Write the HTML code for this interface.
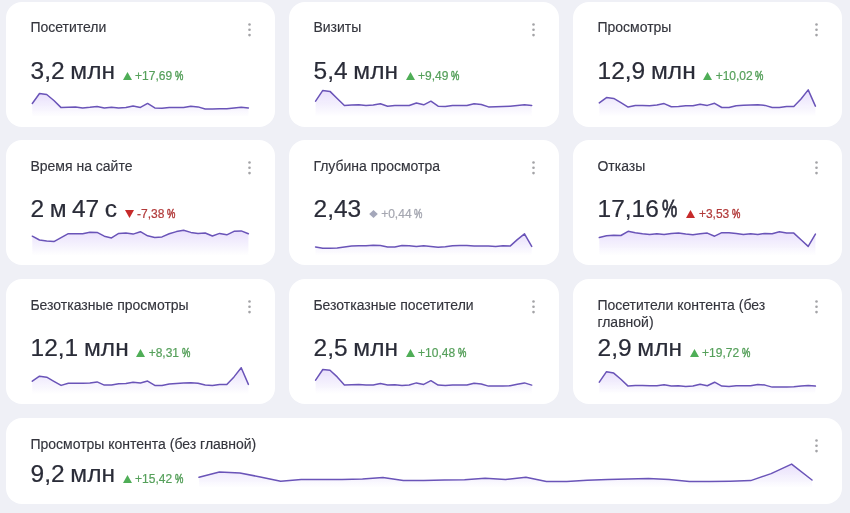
<!DOCTYPE html>
<html><head><meta charset="utf-8">
<style>
*{margin:0;padding:0;box-sizing:border-box}
html,body{width:850px;height:513px;overflow:hidden;background:#eff0f6;font-family:"Liberation Sans",sans-serif}
.card{position:absolute;background:#fff;border-radius:16px;will-change:transform}
.t{position:absolute;left:24.4px;top:17.5px;font-size:14px;line-height:17.4px;color:#34353d;width:190px;-webkit-text-stroke:0.15px #34353d}
.dots{position:absolute;fill:#a3a3a6}
.dots i{position:absolute;left:0.2px;width:2.7px;height:2.7px;border-radius:50%;background:#9c9c9e}
.v{position:absolute;left:24.5px;top:54.8px;display:flex;align-items:baseline;white-space:nowrap}
.v b{font-weight:normal;font-size:24.5px;line-height:28px;color:#2a2c38;-webkit-text-stroke:0.2px #2a2c38;word-spacing:-1px}
.v .ic{margin-left:7.5px;margin-right:3.5px;align-self:baseline;position:relative;top:1.2px}
.v s{text-decoration:none;font-size:12px;line-height:14px;position:relative;top:1px}
.g{fill:#4fae57}.gt{color:#56a05b;-webkit-text-stroke:0.2px #56a05b}
.r{fill:#c62a2a}.rt{color:#b23b3b;-webkit-text-stroke:0.2px #b23b3b}
.n{fill:#a4a7ba}.nt{color:#a5a7b1;-webkit-text-stroke:0.2px #a5a7b1}
i.p{font-style:normal;display:inline-block;transform:scaleX(.78);transform-origin:0 50%;margin-left:2.5px;margin-right:-2.35px;-webkit-text-stroke-width:0.5px}
i.pv{font-style:normal;display:inline-block;transform:scaleX(.7);transform-origin:0 50%;margin-left:3.5px;margin-right:-5.2px;-webkit-text-stroke:0.8px #2a2c38}
svg.ov{position:absolute;left:0;top:0}
</style></head><body>

<div class="card" style="left:6px;top:1.7px;width:268.9px;height:125px">
<div class="t" style="top:17px">Посетители</div>
<svg class="dots" style="left:239.9px;top:19px" width="7" height="18" viewBox="0 0 7 18"><circle cx="3.5" cy="3.5" r="1.3"/><circle cx="3.5" cy="8.8" r="1.3"/><circle cx="3.5" cy="14.1" r="1.3"/></svg>
<div class="v"><b>3,2 млн</b><svg class="ic" width="9" height="8" viewBox="0 0 9 8"><path d="M4.5 0 L9 8 L0 8 Z" class="g"/></svg><s class="gt">+17,69<i class="p">%</i></s></div>
</div>
<div class="card" style="left:289.3px;top:1.7px;width:269.9px;height:125px">
<div class="t" style="top:17px">Визиты</div>
<svg class="dots" style="left:240.9px;top:19px" width="7" height="18" viewBox="0 0 7 18"><circle cx="3.5" cy="3.5" r="1.3"/><circle cx="3.5" cy="8.8" r="1.3"/><circle cx="3.5" cy="14.1" r="1.3"/></svg>
<div class="v"><b>5,4 млн</b><svg class="ic" width="9" height="8" viewBox="0 0 9 8"><path d="M4.5 0 L9 8 L0 8 Z" class="g"/></svg><s class="gt">+9,49<i class="p">%</i></s></div>
</div>
<div class="card" style="left:573px;top:1.7px;width:269.2px;height:125px">
<div class="t" style="top:17px">Просмотры</div>
<svg class="dots" style="left:240.2px;top:19px" width="7" height="18" viewBox="0 0 7 18"><circle cx="3.5" cy="3.5" r="1.3"/><circle cx="3.5" cy="8.8" r="1.3"/><circle cx="3.5" cy="14.1" r="1.3"/></svg>
<div class="v"><b>12,9 млн</b><svg class="ic" width="9" height="8" viewBox="0 0 9 8"><path d="M4.5 0 L9 8 L0 8 Z" class="g"/></svg><s class="gt">+10,02<i class="p">%</i></s></div>
</div>
<div class="card" style="left:6px;top:140.3px;width:268.9px;height:124.8px">
<div class="t">Время на сайте</div>
<svg class="dots" style="left:239.9px;top:19px" width="7" height="18" viewBox="0 0 7 18"><circle cx="3.5" cy="3.5" r="1.3"/><circle cx="3.5" cy="8.8" r="1.3"/><circle cx="3.5" cy="14.1" r="1.3"/></svg>
<div class="v"><b><span style="word-spacing:-1.3px">2 м 47 с</span></b><svg class="ic" width="9" height="8" viewBox="0 0 9 8"><path d="M0 0 L9 0 L4.5 8 Z" class="r"/></svg><s class="rt">-7,38<i class="p">%</i></s></div>
</div>
<div class="card" style="left:289.3px;top:140.3px;width:269.9px;height:124.8px">
<div class="t">Глубина просмотра</div>
<svg class="dots" style="left:240.9px;top:19px" width="7" height="18" viewBox="0 0 7 18"><circle cx="3.5" cy="3.5" r="1.3"/><circle cx="3.5" cy="8.8" r="1.3"/><circle cx="3.5" cy="14.1" r="1.3"/></svg>
<div class="v"><b>2,43</b><svg class="ic" width="9" height="8" viewBox="0 0 9 8"><path d="M4.5 0 L8.8 4 L4.5 8 L0.2 4 Z" class="n"/></svg><s class="nt">+0,44<i class="p">%</i></s></div>
</div>
<div class="card" style="left:573px;top:140.3px;width:269.2px;height:124.8px">
<div class="t">Отказы</div>
<svg class="dots" style="left:240.2px;top:19px" width="7" height="18" viewBox="0 0 7 18"><circle cx="3.5" cy="3.5" r="1.3"/><circle cx="3.5" cy="8.8" r="1.3"/><circle cx="3.5" cy="14.1" r="1.3"/></svg>
<div class="v"><b>17,16<i class="pv">%</i></b><svg class="ic" width="9" height="8" viewBox="0 0 9 8"><path d="M4.5 0 L9 8 L0 8 Z" class="r"/></svg><s class="rt">+3,53<i class="p">%</i></s></div>
</div>
<div class="card" style="left:6px;top:279px;width:268.9px;height:124.8px">
<div class="t">Безотказные просмотры</div>
<svg class="dots" style="left:239.9px;top:19px" width="7" height="18" viewBox="0 0 7 18"><circle cx="3.5" cy="3.5" r="1.3"/><circle cx="3.5" cy="8.8" r="1.3"/><circle cx="3.5" cy="14.1" r="1.3"/></svg>
<div class="v"><b>12,1 млн</b><svg class="ic" width="9" height="8" viewBox="0 0 9 8"><path d="M4.5 0 L9 8 L0 8 Z" class="g"/></svg><s class="gt">+8,31<i class="p">%</i></s></div>
</div>
<div class="card" style="left:289.3px;top:279px;width:269.9px;height:124.8px">
<div class="t">Безотказные посетители</div>
<svg class="dots" style="left:240.9px;top:19px" width="7" height="18" viewBox="0 0 7 18"><circle cx="3.5" cy="3.5" r="1.3"/><circle cx="3.5" cy="8.8" r="1.3"/><circle cx="3.5" cy="14.1" r="1.3"/></svg>
<div class="v"><b>2,5 млн</b><svg class="ic" width="9" height="8" viewBox="0 0 9 8"><path d="M4.5 0 L9 8 L0 8 Z" class="g"/></svg><s class="gt">+10,48<i class="p">%</i></s></div>
</div>
<div class="card" style="left:573px;top:279px;width:269.2px;height:124.8px">
<div class="t">Посетители контента (без главной)</div>
<svg class="dots" style="left:240.2px;top:19px" width="7" height="18" viewBox="0 0 7 18"><circle cx="3.5" cy="3.5" r="1.3"/><circle cx="3.5" cy="8.8" r="1.3"/><circle cx="3.5" cy="14.1" r="1.3"/></svg>
<div class="v"><b>2,9 млн</b><svg class="ic" width="9" height="8" viewBox="0 0 9 8"><path d="M4.5 0 L9 8 L0 8 Z" class="g"/></svg><s class="gt">+19,72<i class="p">%</i></s></div>
</div>
<div class="card" style="left:6px;top:417.8px;width:836.2px;height:86.3px">
<div class="t" style="width:auto">Просмотры контента (без главной)</div>
<svg class="dots" style="left:807.2px;top:19px" width="7" height="18" viewBox="0 0 7 18"><circle cx="3.5" cy="3.5" r="1.3"/><circle cx="3.5" cy="8.8" r="1.3"/><circle cx="3.5" cy="14.1" r="1.3"/></svg>
<div class="v" style="top:42.3px"><b>9,2 млн</b><svg class="ic" width="9" height="8" viewBox="0 0 9 8"><path d="M4.5 0 L9 8 L0 8 Z" class="g"/></svg><s class="gt">+15,42<i class="p">%</i></s></div>
</div>
<svg class="ov" width="850" height="513" viewBox="0 0 850 513"><defs>
<linearGradient id="gr1" gradientUnits="userSpaceOnUse" x1="0" y1="93.5" x2="0" y2="116.7"><stop offset="0" stop-color="#925ff0" stop-opacity="0.2"/><stop offset="1" stop-color="#7c5ce8" stop-opacity="0"/></linearGradient>
<linearGradient id="gr2" gradientUnits="userSpaceOnUse" x1="0" y1="90.4" x2="0" y2="116.7"><stop offset="0" stop-color="#925ff0" stop-opacity="0.2"/><stop offset="1" stop-color="#7c5ce8" stop-opacity="0"/></linearGradient>
<linearGradient id="gr3" gradientUnits="userSpaceOnUse" x1="0" y1="89.9" x2="0" y2="116.7"><stop offset="0" stop-color="#925ff0" stop-opacity="0.2"/><stop offset="1" stop-color="#7c5ce8" stop-opacity="0"/></linearGradient>
<linearGradient id="gr4" gradientUnits="userSpaceOnUse" x1="0" y1="230.2" x2="0" y2="255.3"><stop offset="0" stop-color="#925ff0" stop-opacity="0.2"/><stop offset="1" stop-color="#7c5ce8" stop-opacity="0"/></linearGradient>
<linearGradient id="gr5" gradientUnits="userSpaceOnUse" x1="0" y1="233.8" x2="0" y2="255.3"><stop offset="0" stop-color="#925ff0" stop-opacity="0.2"/><stop offset="1" stop-color="#7c5ce8" stop-opacity="0"/></linearGradient>
<linearGradient id="gr6" gradientUnits="userSpaceOnUse" x1="0" y1="231.3" x2="0" y2="255.3"><stop offset="0" stop-color="#925ff0" stop-opacity="0.2"/><stop offset="1" stop-color="#7c5ce8" stop-opacity="0"/></linearGradient>
<linearGradient id="gr7" gradientUnits="userSpaceOnUse" x1="0" y1="367.7" x2="0" y2="394"><stop offset="0" stop-color="#925ff0" stop-opacity="0.2"/><stop offset="1" stop-color="#7c5ce8" stop-opacity="0"/></linearGradient>
<linearGradient id="gr8" gradientUnits="userSpaceOnUse" x1="0" y1="369.5" x2="0" y2="394"><stop offset="0" stop-color="#925ff0" stop-opacity="0.2"/><stop offset="1" stop-color="#7c5ce8" stop-opacity="0"/></linearGradient>
<linearGradient id="gr9" gradientUnits="userSpaceOnUse" x1="0" y1="371.7" x2="0" y2="394"><stop offset="0" stop-color="#925ff0" stop-opacity="0.2"/><stop offset="1" stop-color="#7c5ce8" stop-opacity="0"/></linearGradient>
<linearGradient id="gr10" gradientUnits="userSpaceOnUse" x1="0" y1="464.1" x2="0" y2="487.8"><stop offset="0" stop-color="#925ff0" stop-opacity="0.2"/><stop offset="1" stop-color="#7c5ce8" stop-opacity="0"/></linearGradient>
</defs>
<path d="M32.3,116.7 L32.3,103.5 L39.5,93.5 L46.7,94.5 L53.9,100.5 L61.1,107.6 L68.3,107.2 L75.5,106.9 L82.7,107.9 L89.9,107.3 L97.1,106.5 L104.3,107.9 L111.5,107.3 L118.7,108.0 L125.9,107.6 L133.1,105.9 L140.4,107.4 L147.6,103.4 L154.8,107.9 L162.0,108.3 L169.2,107.6 L176.4,107.6 L183.6,107.6 L190.8,106.2 L198.0,106.9 L205.2,109.0 L212.4,108.9 L219.6,108.8 L226.8,108.7 L234.0,107.9 L241.2,107.2 L248.4,107.9 L248.4,116.7 Z" fill="url(#gr1)"/>
<polyline points="32.3,103.5 39.5,93.5 46.7,94.5 53.9,100.5 61.1,107.6 68.3,107.2 75.5,106.9 82.7,107.9 89.9,107.3 97.1,106.5 104.3,107.9 111.5,107.3 118.7,108.0 125.9,107.6 133.1,105.9 140.4,107.4 147.6,103.4 154.8,107.9 162.0,108.3 169.2,107.6 176.4,107.6 183.6,107.6 190.8,106.2 198.0,106.9 205.2,109.0 212.4,108.9 219.6,108.8 226.8,108.7 234.0,107.9 241.2,107.2 248.4,107.9" fill="none" stroke="#6a54b8" stroke-width="1.5" stroke-linejoin="round" stroke-linecap="round"/>
<path d="M315.6,116.7 L315.6,101.2 L322.8,90.4 L330.0,91.4 L337.2,98.5 L344.4,105.5 L351.6,105.0 L358.8,104.8 L366.0,105.5 L373.2,105.0 L380.4,103.8 L387.6,106.2 L394.8,105.5 L402.0,105.5 L409.2,105.5 L416.4,103.0 L423.7,104.8 L430.9,101.2 L438.1,106.2 L445.3,106.5 L452.5,105.5 L459.7,105.5 L466.9,105.5 L474.1,103.8 L481.3,104.5 L488.5,106.9 L495.7,106.7 L502.9,106.4 L510.1,106.2 L517.3,105.5 L524.5,104.8 L531.7,105.5 L531.7,116.7 Z" fill="url(#gr2)"/>
<polyline points="315.6,101.2 322.8,90.4 330.0,91.4 337.2,98.5 344.4,105.5 351.6,105.0 358.8,104.8 366.0,105.5 373.2,105.0 380.4,103.8 387.6,106.2 394.8,105.5 402.0,105.5 409.2,105.5 416.4,103.0 423.7,104.8 430.9,101.2 438.1,106.2 445.3,106.5 452.5,105.5 459.7,105.5 466.9,105.5 474.1,103.8 481.3,104.5 488.5,106.9 495.7,106.7 502.9,106.4 510.1,106.2 517.3,105.5 524.5,104.8 531.7,105.5" fill="none" stroke="#6a54b8" stroke-width="1.5" stroke-linejoin="round" stroke-linecap="round"/>
<path d="M599.3,116.7 L599.3,102.9 L606.5,97.6 L613.7,98.4 L620.9,102.7 L628.1,107.1 L635.3,105.4 L642.5,105.4 L649.7,105.7 L656.9,105.1 L664.1,103.6 L671.3,106.8 L678.5,106.5 L685.7,105.7 L692.9,105.7 L700.1,104.3 L707.3,105.4 L714.6,103.3 L721.8,107.5 L729.0,107.5 L736.2,105.7 L743.4,105.3 L750.6,105.0 L757.8,104.7 L765.0,105.4 L772.2,107.5 L779.4,107.5 L786.6,106.4 L793.8,106.4 L801.0,99.0 L808.2,89.9 L815.4,106.1 L815.4,116.7 Z" fill="url(#gr3)"/>
<polyline points="599.3,102.9 606.5,97.6 613.7,98.4 620.9,102.7 628.1,107.1 635.3,105.4 642.5,105.4 649.7,105.7 656.9,105.1 664.1,103.6 671.3,106.8 678.5,106.5 685.7,105.7 692.9,105.7 700.1,104.3 707.3,105.4 714.6,103.3 721.8,107.5 729.0,107.5 736.2,105.7 743.4,105.3 750.6,105.0 757.8,104.7 765.0,105.4 772.2,107.5 779.4,107.5 786.6,106.4 793.8,106.4 801.0,99.0 808.2,89.9 815.4,106.1" fill="none" stroke="#6a54b8" stroke-width="1.5" stroke-linejoin="round" stroke-linecap="round"/>
<path d="M32.3,255.3 L32.3,236.2 L39.5,240.0 L46.7,240.9 L53.9,241.6 L61.1,237.6 L68.3,233.7 L75.5,233.7 L82.7,233.7 L89.9,232.3 L97.1,232.4 L104.3,236.2 L111.5,237.9 L118.7,233.4 L125.9,233.1 L133.1,234.1 L140.4,231.7 L147.6,235.8 L154.8,237.6 L162.0,236.9 L169.2,233.8 L176.4,231.6 L183.6,230.2 L190.8,232.4 L198.0,233.4 L205.2,233.0 L212.4,236.0 L219.6,233.4 L226.8,234.8 L234.0,231.3 L241.2,230.9 L248.4,233.8 L248.4,255.3 Z" fill="url(#gr4)"/>
<polyline points="32.3,236.2 39.5,240.0 46.7,240.9 53.9,241.6 61.1,237.6 68.3,233.7 75.5,233.7 82.7,233.7 89.9,232.3 97.1,232.4 104.3,236.2 111.5,237.9 118.7,233.4 125.9,233.1 133.1,234.1 140.4,231.7 147.6,235.8 154.8,237.6 162.0,236.9 169.2,233.8 176.4,231.6 183.6,230.2 190.8,232.4 198.0,233.4 205.2,233.0 212.4,236.0 219.6,233.4 226.8,234.8 234.0,231.3 241.2,230.9 248.4,233.8" fill="none" stroke="#6a54b8" stroke-width="1.5" stroke-linejoin="round" stroke-linecap="round"/>
<path d="M315.6,255.3 L315.6,246.9 L322.8,248.3 L330.0,248.3 L337.2,247.9 L344.4,246.9 L351.6,245.9 L358.8,245.8 L366.0,245.8 L373.2,245.2 L380.4,245.5 L387.6,246.9 L394.8,246.9 L402.0,245.5 L409.2,245.8 L416.4,246.5 L423.7,245.8 L430.9,246.4 L438.1,247.2 L445.3,246.8 L452.5,245.8 L459.7,245.4 L466.9,245.4 L474.1,246.1 L481.3,246.1 L488.5,246.1 L495.7,246.5 L502.9,245.8 L510.1,246.1 L517.3,239.6 L524.5,233.8 L531.7,246.4 L531.7,255.3 Z" fill="url(#gr5)"/>
<polyline points="315.6,246.9 322.8,248.3 330.0,248.3 337.2,247.9 344.4,246.9 351.6,245.9 358.8,245.8 366.0,245.8 373.2,245.2 380.4,245.5 387.6,246.9 394.8,246.9 402.0,245.5 409.2,245.8 416.4,246.5 423.7,245.8 430.9,246.4 438.1,247.2 445.3,246.8 452.5,245.8 459.7,245.4 466.9,245.4 474.1,246.1 481.3,246.1 488.5,246.1 495.7,246.5 502.9,245.8 510.1,246.1 517.3,239.6 524.5,233.8 531.7,246.4" fill="none" stroke="#6a54b8" stroke-width="1.5" stroke-linejoin="round" stroke-linecap="round"/>
<path d="M599.3,255.3 L599.3,237.6 L606.5,235.8 L613.7,235.2 L620.9,235.5 L628.1,231.3 L635.3,232.7 L642.5,233.7 L649.7,234.5 L656.9,233.7 L664.1,234.4 L671.3,233.4 L678.5,233.1 L685.7,234.1 L692.9,234.8 L700.1,233.7 L707.3,233.1 L714.6,236.2 L721.8,232.7 L729.0,232.7 L736.2,233.4 L743.4,234.4 L750.6,233.7 L757.8,234.5 L765.0,233.4 L772.2,233.7 L779.4,231.7 L786.6,233.1 L793.8,233.1 L801.0,239.8 L808.2,246.4 L815.4,234.1 L815.4,255.3 Z" fill="url(#gr6)"/>
<polyline points="599.3,237.6 606.5,235.8 613.7,235.2 620.9,235.5 628.1,231.3 635.3,232.7 642.5,233.7 649.7,234.5 656.9,233.7 664.1,234.4 671.3,233.4 678.5,233.1 685.7,234.1 692.9,234.8 700.1,233.7 707.3,233.1 714.6,236.2 721.8,232.7 729.0,232.7 736.2,233.4 743.4,234.4 750.6,233.7 757.8,234.5 765.0,233.4 772.2,233.7 779.4,231.7 786.6,233.1 793.8,233.1 801.0,239.8 808.2,246.4 815.4,234.1" fill="none" stroke="#6a54b8" stroke-width="1.5" stroke-linejoin="round" stroke-linecap="round"/>
<path d="M32.3,394 L32.3,381.2 L39.5,376.2 L46.7,377.2 L53.9,381.3 L61.1,385.4 L68.3,383.3 L75.5,383.3 L82.7,383.3 L89.9,382.9 L97.1,381.9 L104.3,385.1 L111.5,385.0 L118.7,383.7 L125.9,383.6 L133.1,382.2 L140.4,383.0 L147.6,381.1 L154.8,385.4 L162.0,385.4 L169.2,383.9 L176.4,383.4 L183.6,383.0 L190.8,382.7 L198.0,383.2 L205.2,384.9 L212.4,385.4 L219.6,384.4 L226.8,384.6 L234.0,376.9 L241.2,367.7 L248.4,384.4 L248.4,394 Z" fill="url(#gr7)"/>
<polyline points="32.3,381.2 39.5,376.2 46.7,377.2 53.9,381.3 61.1,385.4 68.3,383.3 75.5,383.3 82.7,383.3 89.9,382.9 97.1,381.9 104.3,385.1 111.5,385.0 118.7,383.7 125.9,383.6 133.1,382.2 140.4,383.0 147.6,381.1 154.8,385.4 162.0,385.4 169.2,383.9 176.4,383.4 183.6,383.0 190.8,382.7 198.0,383.2 205.2,384.9 212.4,385.4 219.6,384.4 226.8,384.6 234.0,376.9 241.2,367.7 248.4,384.4" fill="none" stroke="#6a54b8" stroke-width="1.5" stroke-linejoin="round" stroke-linecap="round"/>
<path d="M315.6,394 L315.6,380.2 L322.8,369.5 L330.0,370.3 L337.2,376.9 L344.4,385.1 L351.6,384.7 L358.8,384.4 L366.0,385.0 L373.2,385.0 L380.4,383.6 L387.6,385.1 L394.8,384.7 L402.0,385.4 L409.2,385.0 L416.4,382.9 L423.7,384.4 L430.9,380.7 L438.1,385.1 L445.3,385.4 L452.5,385.0 L459.7,385.0 L466.9,385.0 L474.1,383.3 L481.3,384.0 L488.5,386.1 L495.7,386.0 L502.9,385.9 L510.1,385.8 L517.3,384.3 L524.5,382.9 L531.7,385.1 L531.7,394 Z" fill="url(#gr8)"/>
<polyline points="315.6,380.2 322.8,369.5 330.0,370.3 337.2,376.9 344.4,385.1 351.6,384.7 358.8,384.4 366.0,385.0 373.2,385.0 380.4,383.6 387.6,385.1 394.8,384.7 402.0,385.4 409.2,385.0 416.4,382.9 423.7,384.4 430.9,380.7 438.1,385.1 445.3,385.4 452.5,385.0 459.7,385.0 466.9,385.0 474.1,383.3 481.3,384.0 488.5,386.1 495.7,386.0 502.9,385.9 510.1,385.8 517.3,384.3 524.5,382.9 531.7,385.1" fill="none" stroke="#6a54b8" stroke-width="1.5" stroke-linejoin="round" stroke-linecap="round"/>
<path d="M599.3,394 L599.3,382.2 L606.5,371.7 L613.7,373.1 L620.9,379.3 L628.1,386.1 L635.3,385.4 L642.5,385.4 L649.7,385.8 L656.9,385.7 L664.1,384.7 L671.3,386.1 L678.5,385.8 L685.7,386.4 L692.9,386.1 L700.1,384.3 L707.3,385.7 L714.6,382.2 L721.8,386.1 L729.0,386.5 L736.2,385.8 L743.4,385.8 L750.6,385.8 L757.8,384.4 L765.0,385.1 L772.2,387.1 L779.4,387.1 L786.6,387.1 L793.8,386.8 L801.0,386.1 L808.2,385.4 L815.4,386.1 L815.4,394 Z" fill="url(#gr9)"/>
<polyline points="599.3,382.2 606.5,371.7 613.7,373.1 620.9,379.3 628.1,386.1 635.3,385.4 642.5,385.4 649.7,385.8 656.9,385.7 664.1,384.7 671.3,386.1 678.5,385.8 685.7,386.4 692.9,386.1 700.1,384.3 707.3,385.7 714.6,382.2 721.8,386.1 729.0,386.5 736.2,385.8 743.4,385.8 750.6,385.8 757.8,384.4 765.0,385.1 772.2,387.1 779.4,387.1 786.6,387.1 793.8,386.8 801.0,386.1 808.2,385.4 815.4,386.1" fill="none" stroke="#6a54b8" stroke-width="1.5" stroke-linejoin="round" stroke-linecap="round"/>
<path d="M199.0,487.8 L199.0,477.3 L219.4,472.0 L239.9,472.9 L260.3,477.0 L280.7,481.2 L301.2,479.4 L321.6,479.4 L342.0,479.4 L362.5,478.9 L382.9,477.6 L403.3,480.6 L423.8,480.6 L444.2,479.9 L464.6,479.8 L485.1,478.2 L505.5,479.4 L525.9,477.3 L546.4,481.5 L566.8,481.5 L587.2,480.2 L607.7,479.6 L628.1,479.1 L648.5,478.5 L669.0,479.4 L689.4,481.5 L709.8,481.5 L730.3,481.2 L750.7,480.6 L771.1,473.6 L791.6,464.1 L812.0,480.0 L812.0,487.8 Z" fill="url(#gr10)"/>
<polyline points="199.0,477.3 219.4,472.0 239.9,472.9 260.3,477.0 280.7,481.2 301.2,479.4 321.6,479.4 342.0,479.4 362.5,478.9 382.9,477.6 403.3,480.6 423.8,480.6 444.2,479.9 464.6,479.8 485.1,478.2 505.5,479.4 525.9,477.3 546.4,481.5 566.8,481.5 587.2,480.2 607.7,479.6 628.1,479.1 648.5,478.5 669.0,479.4 689.4,481.5 709.8,481.5 730.3,481.2 750.7,480.6 771.1,473.6 791.6,464.1 812.0,480.0" fill="none" stroke="#6a54b8" stroke-width="1.5" stroke-linejoin="round" stroke-linecap="round"/>
</svg>
</body></html>
